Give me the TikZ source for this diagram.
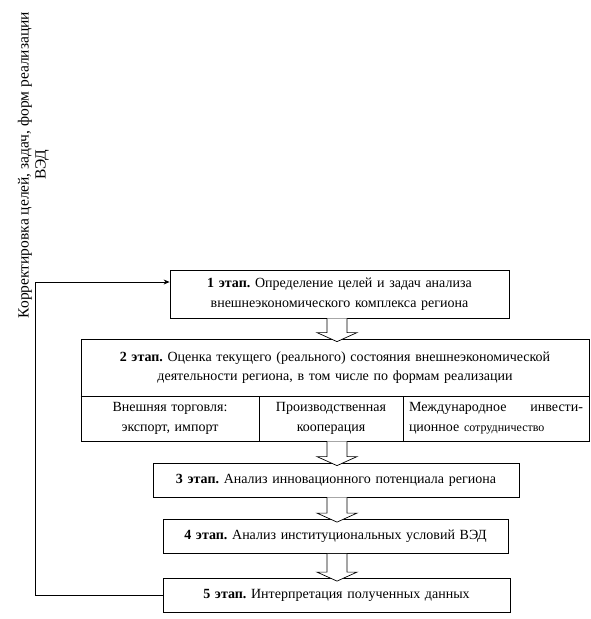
\documentclass[tikz,border=0pt]{standalone}
\usepackage{fontspec}
\setmainfont{Liberation Serif}
\usetikzlibrary{calc,arrows.meta}
\frenchspacing
\newcommand\blockarr[2]{%
  \draw[barrow] let \p1=(#1), \p2=(#2) in
    (327pt,\y1) -- (327pt,\y2+6pt) -- (317pt,\y2+6pt) -- (337pt,\y2-3pt)
    -- (357pt,\y2+6pt) -- (347pt,\y2+6pt) -- (347pt,\y1);}
\begin{document}
\begin{tikzpicture}[x=1pt,y=-1pt,
  txt/.style={font=\fontsize{14}{19.5}\selectfont},
  box/.style={draw,line width=0.8pt,inner sep=0pt,align=center,txt},
  barrow/.style={draw,fill=white,line width=0.7pt},
  fb/.style={line width=0.8pt}]
\useasboundingbox (0,0) rectangle (591,619);
% rotated label
\node[rotate=90,align=center,font=\fontsize{15.5}{17}\selectfont] (rot) at (33.5,165)
  {Корректировка целей, задач, форм реализации\\ВЭД};
% stage 1
\node[box,minimum width=339pt,minimum height=48pt,text width=333pt] (b1) at (339.5,294)
  {\textbf{1 этап.} Определение целей и задач анализа\\внешнеэкономического комплекса региона};
% stage 2
\node[box,minimum width=508pt,minimum height=57pt,text width=502pt] (b2) at (335,367.5)
  {\textbf{2 этап.} Оценка текущего (реального) состояния внешнеэкономической\\деятельности региона, в том числе по формам реализации};
\node[box,minimum width=178pt,minimum height=45pt,text width=172pt] (c1) at (170,418.5)
  {Внешняя торговля:\\экспорт, импорт};
\node[box,minimum width=144pt,minimum height=45pt,text width=140pt] (c2) at (331,418.5)
  {Производственная\\кооперация};
\node[box,minimum width=186pt,minimum height=45pt,text width=174pt,align=left] (c3) at (496,418.5)
  {Международное\hfill инвести-\\ционное {\fontsize{12}{19.5}\selectfont сотрудничество}};
\draw[line width=1.3pt] (b2.south west) -- (b2.south east);
% stage 3-5
\node[box,minimum width=366pt,minimum height=34pt,text width=360pt] (b3) at (336,480)
  {\textbf{3 этап.} Анализ инновационного потенциала региона};
\node[box,minimum width=345pt,minimum height=34pt,text width=339pt] (b4) at (335.5,536.5)
  {\textbf{4 этап.} Анализ институциональных условий ВЭД};
\node[box,minimum width=347pt,minimum height=34pt,text width=341pt] (b5) at (336.5,595.5)
  {\textbf{5 этап.} Интерпретация полученных данных};
% block arrows
\blockarr{b1.south}{b2.north}
\blockarr{c2.south}{b3.north}
\blockarr{b3.south}{b4.north}
\blockarr{b4.south}{b5.north}
% feedback loop
\coordinate (fbtop) at (35,282);
\draw[fb,-{Stealth[length=6pt,width=5pt]}] (b5.west) -- (b5.west -| fbtop) -- (fbtop) -- (fbtop -| b1.west);
\end{tikzpicture}
\end{document}
